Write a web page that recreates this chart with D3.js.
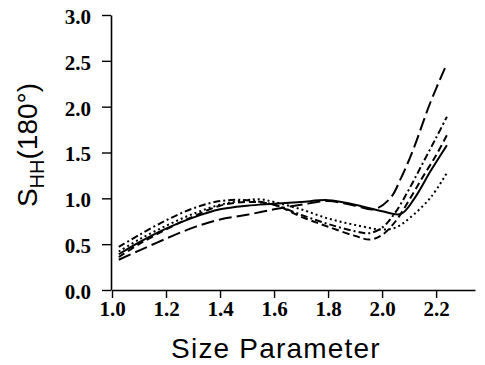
<!DOCTYPE html>
<html><head><meta charset="utf-8">
<script src="https://cdn.jsdelivr.net/npm/d3@7"></script>
<style>html,body{margin:0;padding:0;background:#fff;}svg{display:block;}</style>
</head><body>
<svg id="c" width="485" height="365"></svg>
<script>
const xTicks = [1.0, 1.2, 1.4, 1.6, 1.8, 2.0, 2.2];
const yTicks = [0.0, 0.5, 1.0, 1.5, 2.0, 2.5, 3.0];

const solidX = [1.025, 1.1, 1.2, 1.3, 1.4, 1.5, 1.6, 1.7, 1.8, 1.9, 2.0, 2.07, 2.12, 2.18, 2.24];
const solidY = [0.39, 0.52, 0.67, 0.79, 0.88, 0.92, 0.94, 0.96, 0.98, 0.93, 0.86, 0.83, 1.0, 1.3, 1.58];

const longDashX = [1.025, 1.1, 1.2, 1.3, 1.4, 1.5, 1.6, 1.7, 1.8, 1.9, 1.97, 2.03, 2.07, 2.115, 2.178, 2.24];
const longDashY = [0.33, 0.43, 0.56, 0.68, 0.77, 0.82, 0.88, 0.93, 0.97, 0.92, 0.88, 1.0, 1.22, 1.53, 2.04, 2.47];

const dashDotX = [1.025, 1.1, 1.2, 1.3, 1.4, 1.5, 1.6, 1.7, 1.8, 1.9, 1.95, 2.0, 2.05, 2.1, 2.15, 2.2, 2.24];
const dashDotY = [0.47, 0.6, 0.76, 0.89, 0.97, 0.98, 0.93, 0.82, 0.72, 0.64, 0.62, 0.68, 0.85, 1.1, 1.38, 1.66, 1.89];

const dashX = [1.025, 1.1, 1.2, 1.3, 1.4, 1.5, 1.6, 1.7, 1.8, 1.9, 1.955, 2.0, 2.05, 2.1, 2.15, 2.2, 2.24];
const dashY = [0.36, 0.5, 0.66, 0.8, 0.92, 0.96, 0.93, 0.8, 0.69, 0.59, 0.55, 0.6, 0.75, 0.98, 1.23, 1.47, 1.69];

const dotX = [1.025, 1.1, 1.2, 1.3, 1.4, 1.5, 1.55, 1.6, 1.7, 1.8, 1.9, 2.0, 2.05, 2.1, 2.18, 2.24];
const dotY = [0.42, 0.55, 0.7, 0.83, 0.93, 0.98, 0.99, 0.96, 0.88, 0.78, 0.71, 0.66, 0.68, 0.78, 1.01, 1.28];

const series = [
  {x: solidX, y: solidY, dash: null},
  {x: longDashX, y: longDashY, dash: "13,5"},
  {x: dashDotX, y: dashDotY, dash: "7,3,2,3"},
  {x: dashX, y: dashY, dash: "7,4"},
  {x: dotX, y: dotY, dash: "2,3"}
];

const svg = d3.select("#c");
const x = d3.scaleLinear().domain([1.0, 2.344]).range([112, 475]);
const y = d3.scaleLinear().domain([0, 3]).range([290, 15]);

const serif = "'Liberation Serif','Times New Roman',serif";
const sans = "'Liberation Sans',Arial,sans-serif";

const xAxis = svg.append("g").attr("transform", "translate(0,290)")
  .call(d3.axisBottom(x).tickValues(xTicks).tickFormat(d3.format(".1f")).tickSize(8).tickSizeOuter(0));
xAxis.select(".domain").attr("stroke-width", 1.6);
xAxis.selectAll(".tick line").attr("stroke-width", 1.4);
xAxis.selectAll("text").attr("font-family", serif).attr("font-size", 21).attr("font-weight", "bold")
  .attr("fill", "#000").attr("dy", "0.95em").attr("y", 6);

const yAxis = svg.append("g").attr("transform", "translate(111,0)")
  .call(d3.axisLeft(y).tickValues(yTicks).tickFormat(d3.format(".1f")).tickSize(9).tickSizeOuter(0));
yAxis.select(".domain").attr("stroke-width", 1.6);
yAxis.selectAll(".tick line").attr("stroke-width", 1.4);
yAxis.selectAll("text").attr("font-family", serif).attr("font-size", 21).attr("font-weight", "bold")
  .attr("fill", "#000").attr("x", -20).attr("dy", "0.4em");

const line = d3.line().curve(d3.curveCatmullRom.alpha(0.5))
  .x(d => x(d[0])).y(d => y(d[1]));

series.forEach(s => {
  const pts = s.x.map((v, i) => [v, s.y[i]]);
  svg.append("path").datum(pts).attr("d", line)
    .attr("fill", "none").attr("stroke", "#000").attr("stroke-width", 2)
    .attr("stroke-dasharray", s.dash);
});

svg.append("text").attr("x", 276).attr("y", 358).attr("text-anchor", "middle")
  .attr("font-family", sans).attr("font-size", 28).attr("letter-spacing", 1.2)
  .attr("fill", "#000").text("Size  Parameter");

const yl = svg.append("text").attr("transform", "translate(37,145) rotate(-90)")
  .attr("text-anchor", "middle").attr("font-family", sans).attr("font-size", 28).attr("fill", "#000");
yl.append("tspan").text("S");
yl.append("tspan").attr("font-size", 20).attr("dy", 7).text("HH");
yl.append("tspan").attr("dy", -7).text("(180°)");
</script>
</body></html>
